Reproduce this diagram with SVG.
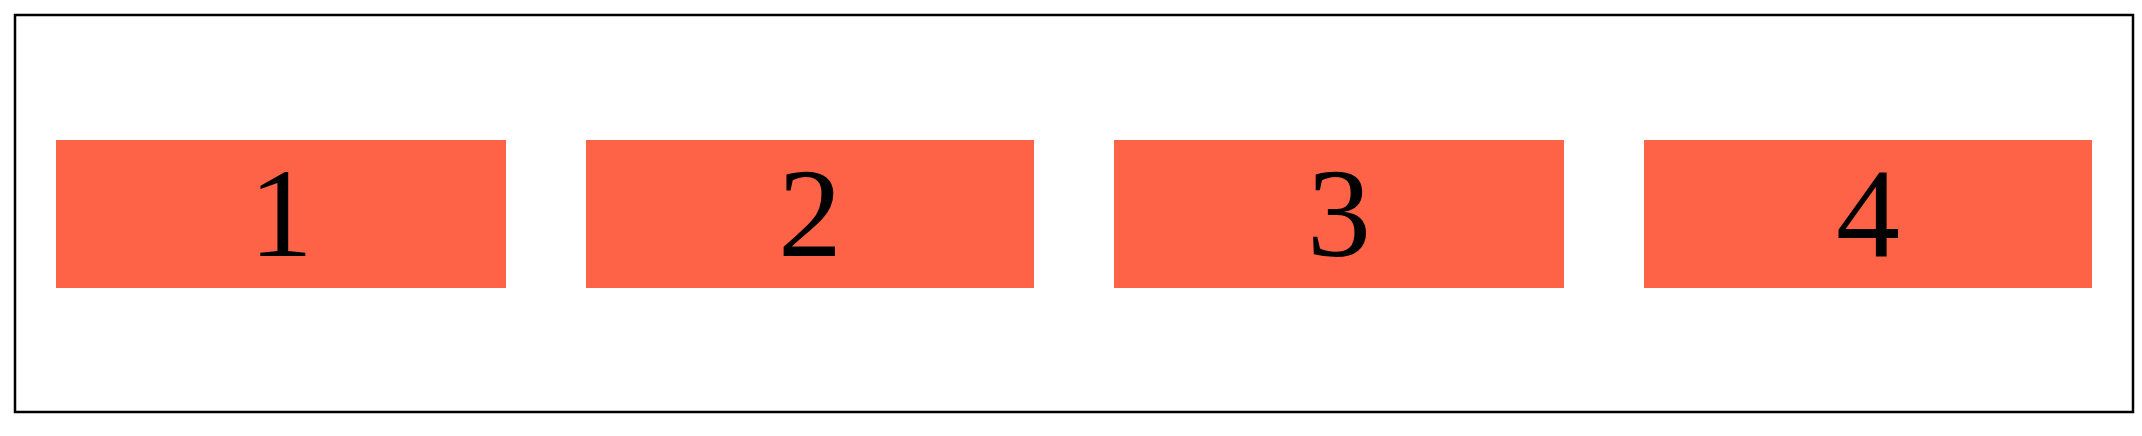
<svg xmlns="http://www.w3.org/2000/svg" width="2142" height="436" viewBox="0 0 2142 436">
<style>
.node rect{fill:#FF6347;}
.node text{font-family:'Times New Roman','Liberation Serif',Times,serif;font-size:128px;fill:#000;text-anchor:middle;}
</style>
<rect x="0" y="0" width="2142" height="436" fill="#fff"/>
<rect x="15" y="15" width="2118" height="397" fill="none" stroke="#000" stroke-width="2.5"/>
<g id="connectors"></g>
<g id="node1" class="node"><rect x="56" y="140" width="450" height="148"/><text x="281" y="256">1</text></g>
<g id="node2" class="node"><rect x="586" y="140" width="448" height="148"/><text x="810" y="256">2</text></g>
<g id="node3" class="node"><rect x="1114" y="140" width="450" height="148"/><text x="1339" y="256">3</text></g>
<g id="node4" class="node"><rect x="1644" y="140" width="448" height="148"/><text x="1868" y="256">4</text></g>
</svg>
